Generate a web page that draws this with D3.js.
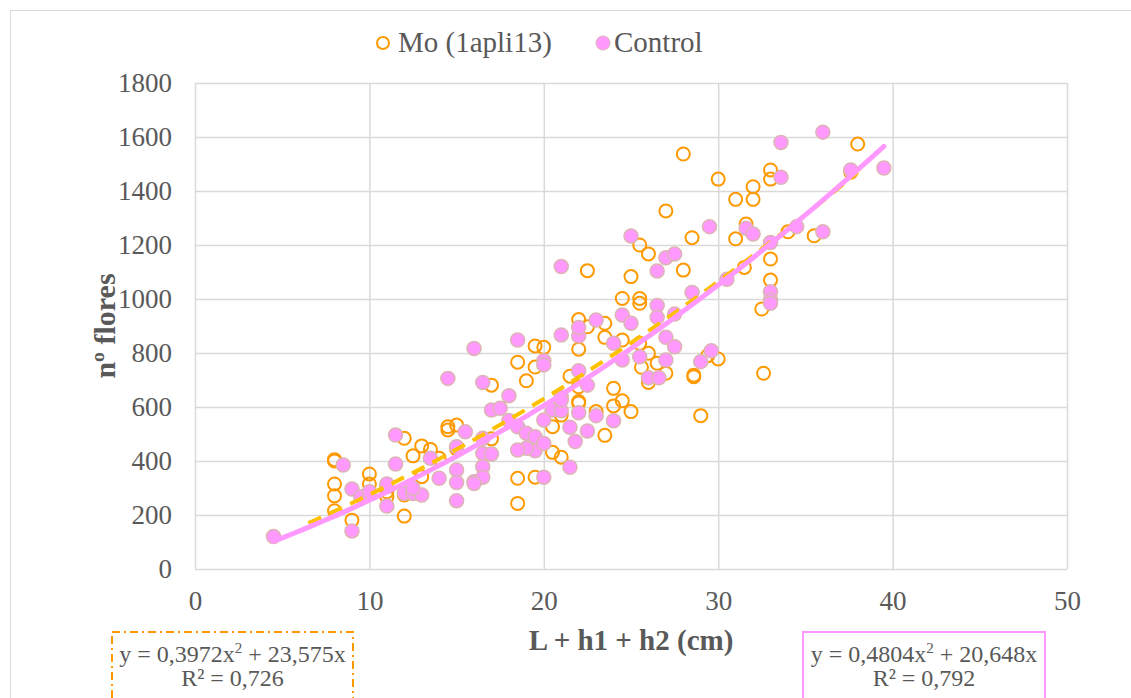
<!DOCTYPE html>
<html>
<head>
<meta charset="utf-8">
<script src="https://cdn.jsdelivr.net/npm/d3@7"></script>
<style>
  body { margin: 0; background: #fff; }
  svg text { font-family: "Liberation Serif", "Times New Roman", "DejaVu Serif", serif; }
</style>
</head>
<body>
<div id="chart"></div>
<script>
// Mo (1apli13) series: [L + h1 + h2, nº flores]
const moPoints = [
  [8, 405], [8, 400], [8, 315], [8, 271], [8, 216], [9, 181],
  [10, 352], [10, 315], [11, 268], [11, 286], [11, 305],
  [12, 484], [12, 196], [12, 274], [12.5, 290], [12.5, 419],
  [13, 456], [13, 342], [13.5, 443], [14, 410],
  [14.5, 527], [14.5, 515], [15, 533], [15, 445], [17, 482], [17, 681],
  [19, 697], [19.5, 748], [18.5, 766], [19.5, 826], [20, 821], [22, 814],
  [21.5, 714], [22, 675], [22, 620], [22, 615],
  [24, 669], [24.5, 623], [24, 604], [25, 583], [23, 583], [21, 570],
  [20.5, 527], [23.5, 495], [20.5, 432], [21, 414],
  [18.5, 336], [19.5, 340], [18.5, 243],
  [23.5, 858], [24.5, 848], [25.5, 836], [26, 799], [25.6, 747], [26.5, 762],
  [27, 725], [26, 691],
  [22.5, 1105], [25, 1083], [25.5, 1200], [26, 1167], [28, 1107],
  [24.5, 1002], [25.5, 1002], [25.5, 984], [22, 924], [22.5, 897], [23.5, 910],
  [28, 1537], [27, 1326], [30, 1444], [33, 1478], [33, 1444],
  [32, 1416], [32, 1369], [31, 1369], [38, 1574], [31.6, 1278], [31, 1223],
  [34, 1249], [35.5, 1234], [33, 1148], [31.5, 1117], [28.5, 1227],
  [33, 1070], [32.5, 963], [37.6, 1470],
  [30, 778], [28.6, 712], [28.6, 718], [32.6, 725], [29, 568], [29.4, 790]
];

// Control series
const controlPoints = [
  [4.5, 120], [8.5, 385], [9, 141], [9, 296], [9.5, 268], [10, 286],
  [11, 315], [11, 233], [11.5, 496], [11.5, 389], [12, 280], [12.5, 280],
  [13, 274], [12.5, 299], [13.5, 410], [14, 336], [15, 367], [15, 320],
  [15, 253], [15.5, 508], [16, 323], [14.5, 706], [16, 817], [15, 453],
  [16.5, 691], [18, 642], [17, 589], [17.5, 595], [21, 638], [20.5, 589],
  [21, 586], [22, 579], [23, 568], [24, 549], [20, 552], [21.5, 525],
  [22.5, 511], [21.8, 472], [18.5, 527], [19, 503], [19.5, 490], [19.5, 438],
  [19, 447], [18.5, 441], [20, 465], [20, 340], [21.5, 377], [16.5, 484],
  [16.5, 428], [17, 426], [16.5, 379], [16.5, 340], [16, 317], [18, 550],
  [18.5, 848], [21, 867], [22, 863], [20, 771], [20, 756], [24, 836],
  [24.5, 774], [25.5, 786], [27, 858], [27.5, 823], [27, 774], [26, 708],
  [26.6, 708], [22, 734], [22.5, 681], [22, 894], [23, 922], [24.5, 941],
  [25, 910], [21, 1120], [25, 1233], [27, 1153], [27.5, 1167], [26.5, 1104],
  [26.5, 976], [26.5, 932], [27.5, 944], [21, 626],
  [33.6, 1580], [36, 1618], [33.6, 1451], [39.5, 1485], [37.6, 1478],
  [29.5, 1268], [31.6, 1262], [32, 1241], [34.5, 1268], [36, 1249],
  [33, 1209], [30.5, 1073], [28.5, 1024], [33, 1027], [33, 996], [33, 984],
  [29.6, 808], [29, 768]
];

// polynomial trendlines (intercept 0), as printed on the chart
const moTrend = { a: 0.3972, b: 23.575, from: 6.5, to: 38 };
const controlTrend = { a: 0.4804, b: 20.648, from: 4.5, to: 39.5 };

const xTicks = [0, 10, 20, 30, 40, 50];
const yTicks = [0, 200, 400, 600, 800, 1000, 1200, 1400, 1600, 1800];

const W = 1131, H = 698;
const plot = { left: 195, right: 1067, top: 83, bottom: 569 };
const textGray = '#595959';
const serif = '"Liberation Serif", "Times New Roman", "DejaVu Serif", serif';

const svg = d3.select('#chart').append('svg')
  .attr('width', W).attr('height', H)
  .attr('font-family', serif);

// outer chart frame
svg.append('rect')
  .attr('x', 10.5).attr('y', 10.5)
  .attr('width', W).attr('height', H)
  .attr('fill', '#fff').attr('stroke', '#d9d9d9').attr('stroke-width', 1);

const x = d3.scaleLinear().domain([0, 50]).range([plot.left, plot.right]);
const y = d3.scaleLinear().domain([0, 1800]).range([plot.bottom, plot.top]);

// grid + tick labels
const yAxis = svg.append('g')
  .attr('transform', `translate(${plot.left},0)`)
  .call(d3.axisLeft(y).tickValues(yTicks).tickFormat(d3.format('d'))
    .tickSizeInner(-(plot.right - plot.left)).tickSizeOuter(0).tickPadding(23));
const xAxis = svg.append('g')
  .attr('transform', `translate(0,${plot.bottom})`)
  .call(d3.axisBottom(x).tickValues(xTicks).tickFormat(d3.format('d'))
    .tickSizeInner(-(plot.bottom - plot.top)).tickSizeOuter(0).tickPadding(22));

[xAxis, yAxis].forEach(g => {
  g.attr('font-family', serif).attr('font-size', 27);
  g.select('.domain').remove();
  g.selectAll('.tick line').attr('stroke', '#d9d9d9').attr('stroke-width', 1.5);
  g.selectAll('.tick text').attr('fill', textGray);
});

// markers
svg.append('g').selectAll('circle')
  .data(moPoints)
  .enter().append('circle')
  .attr('cx', d => x(d[0]))
  .attr('cy', d => y(d[1]))
  .attr('r', 6.5)
  .attr('fill', 'none')
  .attr('stroke', '#ff9900')
  .attr('stroke-width', 2);

svg.append('g').selectAll('circle')
  .data(controlPoints)
  .enter().append('circle')
  .attr('cx', d => x(d[0]))
  .attr('cy', d => y(d[1]))
  .attr('r', 7)
  .attr('fill', '#ff99ff')
  .attr('stroke', '#dcb4b4')
  .attr('stroke-width', 1.5);

// trendlines
function trendPath(t) {
  const xs = d3.range(0, 61).map(i => t.from + (t.to - t.from) * i / 60);
  return d3.line()
    .x(v => x(v))
    .y(v => y(t.a * v * v + t.b * v))(xs);
}

svg.append('path')
  .attr('d', trendPath(moTrend))
  .attr('fill', 'none')
  .attr('stroke', '#ffc000')
  .attr('stroke-width', 4)
  .attr('stroke-dasharray', '14,9');

svg.append('path')
  .attr('d', trendPath(controlTrend))
  .attr('fill', 'none')
  .attr('stroke', '#ff99ff')
  .attr('stroke-width', 5)
  .attr('stroke-linecap', 'round');

// axis titles
svg.append('text')
  .attr('x', (plot.left + plot.right) / 2).attr('y', 650)
  .attr('text-anchor', 'middle')
  .attr('fill', textGray)
  .attr('font-size', 29).attr('font-weight', 'bold')
  .text('L + h1 + h2 (cm)');

svg.append('text')
  .attr('transform', `translate(115,${(plot.top + plot.bottom) / 2}) rotate(-90)`)
  .attr('text-anchor', 'middle')
  .attr('fill', textGray)
  .attr('font-size', 30).attr('font-weight', 'bold')
  .text('nº flores');

// legend
const legend = svg.append('g');
legend.append('circle').attr('cx', 383).attr('cy', 43).attr('r', 6)
  .attr('fill', 'none').attr('stroke', '#ff9900').attr('stroke-width', 2);
legend.append('text').attr('x', 398).attr('y', 52)
  .attr('fill', textGray).attr('font-size', 29).text('Mo (1apli13)');
legend.append('circle').attr('cx', 603).attr('cy', 43).attr('r', 7)
  .attr('fill', '#ff99ff').attr('stroke', '#dcb4b4').attr('stroke-width', 1);
legend.append('text').attr('x', 614).attr('y', 52)
  .attr('fill', textGray).attr('font-size', 29).text('Control');

// trendline equation labels
function equationBox(bx, bw, color, dash, coefA, coefB, r2) {
  const g = svg.append('g');
  g.append('rect')
    .attr('x', bx).attr('y', 632)
    .attr('width', bw).attr('height', 80)
    .attr('fill', '#fff')
    .attr('stroke', color).attr('stroke-width', 2)
    .attr('stroke-dasharray', dash);
  const cx = bx + bw / 2;
  const eq = g.append('text')
    .attr('x', cx).attr('y', 662)
    .attr('text-anchor', 'middle')
    .attr('fill', textGray).attr('font-size', 24);
  eq.append('tspan').text(`y = ${coefA}x`);
  eq.append('tspan').attr('dy', -9).attr('font-size', 15).text('2');
  eq.append('tspan').attr('dy', 9).text(` + ${coefB}x`);
  g.append('text')
    .attr('x', cx).attr('y', 686)
    .attr('text-anchor', 'middle')
    .attr('fill', textGray).attr('font-size', 24)
    .text(`R² = ${r2}`);
}

equationBox(112, 241, '#ff9900', '8,4,2,4', '0,3972', '23,575', '0,726');
equationBox(803, 242, '#ff99ff', null, '0,4804', '20,648', '0,792');
</script>
</body>
</html>
